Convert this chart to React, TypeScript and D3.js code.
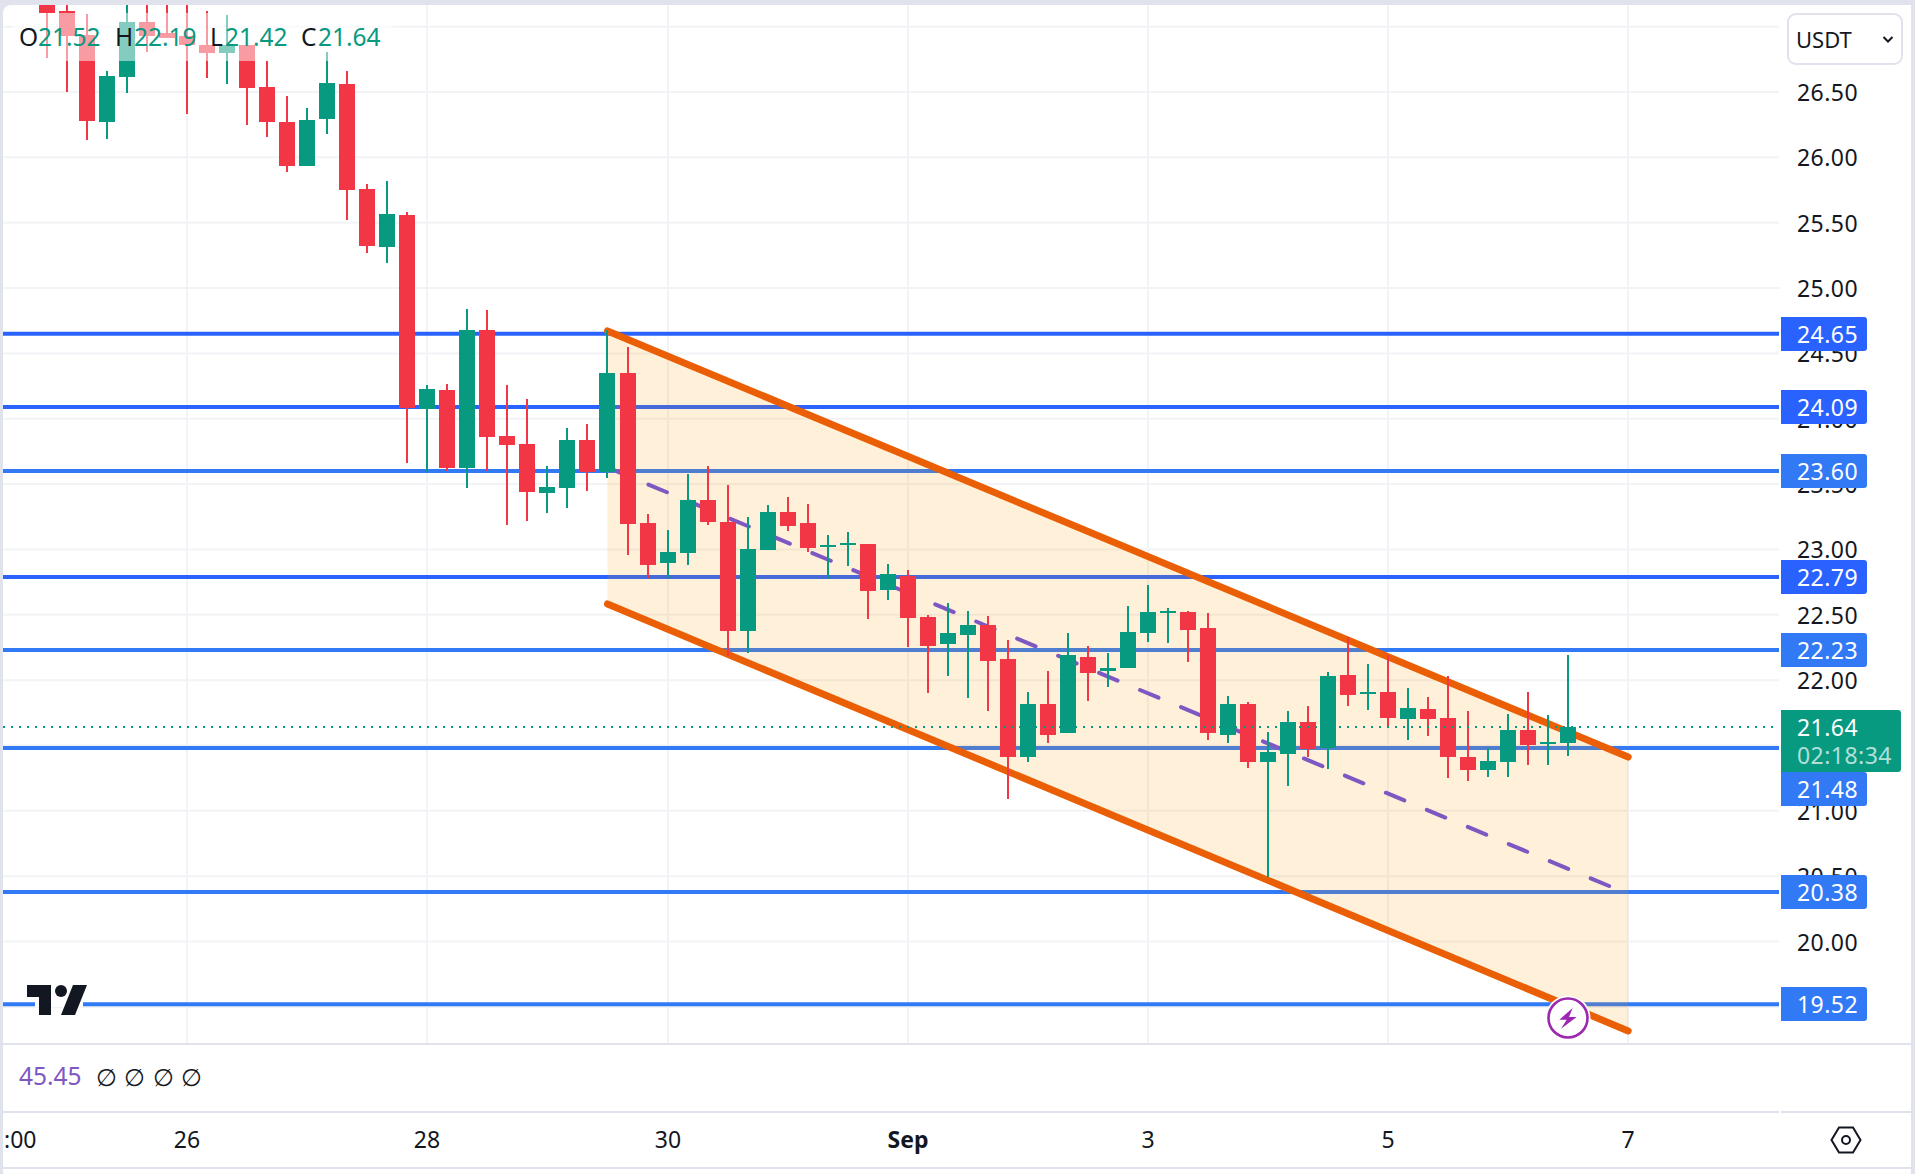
import * as d3 from "d3";

// 4h candles, left to right
const opens = [27.242, 27.12, 26.936, 26.271, 26.615, 27.036, 26.952, 26.929, 26.86, 26.798, 26.86, 26.539, 26.271, 25.934, 26.294, 26.561, 25.758, 25.314, 25.559, 24.075, 24.221, 23.623, 24.679, 23.869, 23.807, 23.432, 23.47, 23.838, 23.592, 24.351, 23.202, 22.896, 22.972, 23.378, 23.21, 22.376, 22.995, 23.286, 23.202, 23.019, 23.034, 23.042, 22.689, 22.797, 22.483, 22.277, 22.345, 22.422, 22.162, 21.412, 21.817, 21.595, 22.177, 22.07, 22.093, 22.361, 22.513, 22.521, 22.399, 21.58, 21.817, 21.374, 21.435, 21.68, 21.481, 22.04, 21.894, 21.909, 21.703, 21.779, 21.71, 21.412, 21.312, 21.374, 21.618, 21.512, 21.52];
const highs = [27.319, 27.28, 27.097, 26.661, 27.357, 27.28, 27.28, 27.28, 27.12, 27.089, 26.86, 26.737, 26.469, 26.378, 26.806, 26.661, 25.796, 25.819, 25.582, 24.259, 24.266, 24.84, 24.832, 24.259, 24.152, 23.638, 23.93, 23.96, 24.679, 24.549, 23.271, 23.149, 23.577, 23.638, 23.493, 23.248, 23.34, 23.401, 23.347, 23.11, 23.133, 23.042, 22.889, 22.843, 22.498, 22.59, 22.529, 22.491, 22.307, 21.909, 22.07, 22.361, 22.261, 22.208, 22.567, 22.728, 22.552, 22.529, 22.513, 21.879, 21.833, 21.603, 21.764, 21.802, 22.063, 22.33, 22.124, 22.193, 21.94, 21.871, 22.032, 21.764, 21.481, 21.741, 21.909, 21.733, 22.19];
const lows = [26.76, 26.5, 26.133, 26.141, 26.492, 26.806, 26.913, 26.332, 26.607, 26.561, 26.248, 26.156, 25.888, 25.934, 26.179, 25.521, 25.268, 25.192, 23.661, 23.592, 23.6, 23.47, 23.6, 23.187, 23.217, 23.279, 23.317, 23.447, 23.546, 22.957, 22.781, 22.781, 22.881, 23.187, 22.185, 22.208, 22.995, 23.141, 22.98, 22.774, 22.873, 22.468, 22.613, 22.253, 21.902, 22.032, 21.863, 21.764, 21.091, 21.374, 21.519, 21.595, 21.84, 21.947, 22.093, 22.291, 22.284, 22.139, 21.542, 21.519, 21.328, 20.494, 21.19, 21.412, 21.32, 21.802, 21.772, 21.641, 21.542, 21.572, 21.251, 21.228, 21.259, 21.259, 21.351, 21.351, 21.42];
const closes = [27.105, 26.929, 26.278, 26.622, 27.036, 26.929, 26.913, 26.86, 26.798, 26.86, 26.531, 26.271, 25.934, 26.286, 26.569, 25.75, 25.322, 25.567, 24.083, 24.228, 23.623, 24.679, 23.861, 23.8, 23.439, 23.477, 23.838, 23.592, 24.351, 23.194, 22.881, 22.98, 23.378, 23.21, 22.376, 23.003, 23.286, 23.179, 23.011, 23.034, 23.049, 22.682, 22.812, 22.475, 22.261, 22.361, 22.422, 22.146, 21.412, 21.817, 21.58, 22.193, 22.055, 22.093, 22.369, 22.521, 22.529, 22.384, 21.595, 21.817, 21.374, 21.45, 21.68, 21.473, 22.032, 21.886, 21.909, 21.71, 21.787, 21.703, 21.412, 21.312, 21.381, 21.618, 21.504, 21.527, 21.64];

const levels = [24.65, 24.09, 23.6, 22.79, 22.23, 21.48, 20.38, 19.52];
const levelColors = ["#2962ff", "#2962ff", "#3179f5", "#2962ff", "#3179f5", "#3179f5", "#3179f5", "#3179f5"];

const priceTicks = [26.5, 26, 25.5, 25, 24.5, 24, 23.5, 23, 22.5, 22, 21, 20.5, 20];
const gridPrices = [27, 26.5, 26, 25.5, 25, 24.5, 24, 23.5, 23, 22.5, 22, 21.5, 21, 20.5, 20, 19.5];

// bar index of each time label
const timeTickBars = [-5, 7, 19, 31, 43, 55, 67, 79];
const timeTickLabels = [":00", "26", "28", "30", "Sep", "3", "5", "7"];

// channel, bar index -> price
const channelBars = [28, 79];
const channelUpper = [24.672, 21.412];
const channelLower = [22.583, 19.316];

const legendItems = [
  { key: "O", keyX: 19, value: "21.52", valueX: 38 },
  { key: "H", keyX: 115, value: "22.19", valueX: 134 },
  { key: "L", keyX: 210, value: "21.42", valueX: 225 },
  { key: "C", keyX: 301, value: "21.64", valueX: 318 },
];
const emptyValues = ["∅", "∅", "∅", "∅"];

const UP = "#089981";
const DOWN = "#f23645";
const TEXT = "#131722";
const BORDER = "#e0e3eb";
const GRID = "#f2f3f6";
const FONT = "'Noto Sans', sans-serif";
const AXIS_FONT = 23;
const AXIS_SPACING = 0.45;

const width = 1915;
const height = 1174;
const plotLeft = 3;
const plotRight = 1779;
const plotTop = 5;
const plotBottom = 1044;

export default function App() {
  const x = d3.scaleLinear().domain([7, 79]).range([187.2, 1628.2]);
  const y = d3.scaleLinear().domain([26.5, 21]).range([92, 810.85]);

  const channelLine = d3
    .line<number>()
    .x((_, i) => x(channelBars[i]))
    .y((d) => y(d));
  const midPrices = channelUpper.map((d, i) => (d + channelLower[i]) / 2);
  const fillArea = d3
    .area<number>()
    .x((_, i) => x(channelBars[i]))
    .y0((_, i) => y(channelLower[i]))
    .y1((d) => y(d));

  const lastY = Math.round(y(closes[closes.length - 1]));

  // price tag with square left side, rounded right side
  const tag = (top: number, w: number, h: number) =>
    `M1781,${top}h${w - 3}q3,0 3,3v${h - 6}q0,3 -3,3h${-(w - 3)}z`;

  return (
    <svg
      width={width}
      height={height}
      style={{ position: "fixed", left: 0, top: 0, fontFamily: FONT }}
    >
      <defs>
        <clipPath id="plot">
          <rect x={plotLeft} y={plotTop} width={plotRight - plotLeft} height={plotBottom - plotTop} />
        </clipPath>
      </defs>
      <rect width={width} height={height} fill={BORDER} />
      <rect x={plotLeft} y={plotTop} width={1911 - plotLeft} height={height} rx={8} fill="#fff" />

      <g clipPath="url(#plot)">
        {gridPrices.map((p) => (
          <line key={p} x1={plotLeft} x2={plotRight} y1={y(p)} y2={y(p)} stroke={GRID} strokeWidth={2} />
        ))}
        {timeTickBars.map((b) => (
          <line key={b} x1={Math.round(x(b))} x2={Math.round(x(b))} y1={plotTop} y2={plotBottom} stroke={GRID} strokeWidth={2} />
        ))}

        {levels.map((p, i) => (
          <line key={p} x1={plotLeft} x2={plotRight} y1={y(p)} y2={y(p)} stroke={levelColors[i]} strokeWidth={4} />
        ))}

        <path d={fillArea(channelUpper) ?? ""} fill="#ff9800" fillOpacity={0.15} />
        <path
          d={channelLine(midPrices) ?? ""}
          fill="none"
          stroke="#7e57c2"
          strokeWidth={4}
          strokeDasharray="20 24.4"
          strokeLinecap="round"
        />
        {[channelUpper, channelLower].map((prices, i) => (
          <path
            key={i}
            d={channelLine(prices) ?? ""}
            fill="none"
            stroke="#ea5f06"
            strokeWidth={7}
            strokeLinecap="round"
          />
        ))}

        {closes.map((c, i) => {
          const o = opens[i];
          const color = c >= o ? UP : DOWN;
          const cx = Math.round(x(i));
          const top = Math.round(y(Math.max(o, c)));
          const bottom = Math.round(y(Math.min(o, c)));
          const wickTop = Math.round(y(highs[i]));
          const wickBottom = Math.round(y(lows[i]));
          return (
            <g key={i} fill={color}>
              <rect x={cx - 1} y={wickTop} width={2} height={wickBottom - wickTop} />
              <rect x={cx - 8} y={top} width={16} height={Math.max(2, bottom - top)} />
            </g>
          );
        })}

        <line
          x1={plotLeft}
          x2={plotRight}
          y1={lastY}
          y2={lastY}
          stroke={UP}
          strokeWidth={2}
          strokeDasharray="2 6"
        />

        {/* legend backdrop */}
        <rect x={12} y={13} width={381} height={48} fill="#fff" fillOpacity={0.5} />
      </g>

      {legendItems.map((d) => (
        <g key={d.key} fontSize={24.5}>
          <text x={d.keyX} y={46} fill={TEXT}>{d.key}</text>
          <text x={d.valueX} y={46} fill={UP}>{d.value}</text>
        </g>
      ))}

      {/* TradingView mark */}
      <rect x={35} y={1001} width={48} height={6} fill="#fff" />
      <path d="M27,985H51V1015H39V997H27Z" fill={TEXT} />
      <circle cx={61} cy={991} r={6} fill={TEXT} />
      <path d="M73,985H87L75,1015H61Z" fill={TEXT} />

      {/* alert marker on the last bar */}
      <circle cx={1568} cy={1018} r={22.5} fill="#fff" />
      <circle cx={1568} cy={1018} r={19.5} fill="#fff" stroke="#9c27b0" strokeWidth={2.6} />
      <path d="M1572.7,1008L1559.3,1019.7H1566.7L1561,1028.7L1576.7,1017H1569Z" fill="#9c27b0" />

      {/* price scale */}
      <rect x={plotRight} y={plotTop} width={1911 - plotRight} height={plotBottom - plotTop} fill="#fff" />
      {priceTicks.map((p) => (
        <text key={p} x={1797} y={y(p) + 9} fontSize={AXIS_FONT} letterSpacing={AXIS_SPACING} fill={TEXT}>
          {d3.format(".2f")(p)}
        </text>
      ))}
      <rect x={1788} y={14} width={114} height={50} rx={8} fill="#fff" stroke={BORDER} strokeWidth={2} />
      <text x={1796} y={48} fontSize={22} fill={TEXT}>USDT</text>
      <path d="M1883.5,37L1888,41.5L1892.5,37" fill="none" stroke={TEXT} strokeWidth={2} />

      {levels.map((p, i) => {
        // 21.48 gets pushed below the last price tag
        const mid = p === 21.48 ? 789 : Math.round(y(p));
        return (
          <g key={p}>
            <path d={tag(mid - 17, 86, 34)} fill={levelColors[i]} />
            <text x={1797} y={mid + 9} fontSize={AXIS_FONT} letterSpacing={AXIS_SPACING} fill="#fff">{d3.format(".2f")(p)}</text>
          </g>
        );
      })}
      <path d={tag(710, 120, 62)} fill={UP} />
      <text x={1797} y={736} fontSize={AXIS_FONT} letterSpacing={AXIS_SPACING} fill="#fff">21.64</text>
      <text x={1797} y={764} fontSize={AXIS_FONT} letterSpacing={AXIS_SPACING} fill="#fff" fillOpacity={0.7}>02:18:34</text>

      {/* lower pane */}
      <text x={19} y={1085} fontSize={24.5} fill="#7e57c2">45.45</text>
      {emptyValues.map((d, i) => (
        <text key={i} x={96 + i * 28.4} y={1086} fontSize={24} fill={TEXT} fontFamily="'Liberation Sans', sans-serif">{d}</text>
      ))}

      <rect x={plotLeft} y={1043} width={1908} height={2} fill={BORDER} />
      <rect x={plotLeft} y={1111} width={plotRight - plotLeft} height={2} fill={BORDER} />
      <rect x={1781} y={1111} width={130} height={2} fill={BORDER} />
      <rect x={plotLeft} y={1167} width={1908} height={2} fill={BORDER} />
      <rect x={1911} y={0} width={4} height={height} fill={BORDER} />

      {/* time scale */}
      {timeTickBars.map((b, i) => {
        const first = i === 0;
        return (
          <text
            key={b}
            x={first ? 4 : Math.round(x(b))}
            y={1148}
            fontSize={23}
            fill={TEXT}
            textAnchor={first ? "start" : "middle"}
            fontWeight={timeTickLabels[i] === "Sep" ? 700 : 400}
          >
            {timeTickLabels[i]}
          </text>
        );
      })}

      <path
        d="M1831.5,1140L1839,1127.5H1853L1860.5,1140L1853,1152.5H1839Z"
        fill="none"
        stroke={TEXT}
        strokeWidth={2}
      />
      <circle cx={1846} cy={1140} r={4} fill="none" stroke={TEXT} strokeWidth={2} />
    </svg>
  );
}
